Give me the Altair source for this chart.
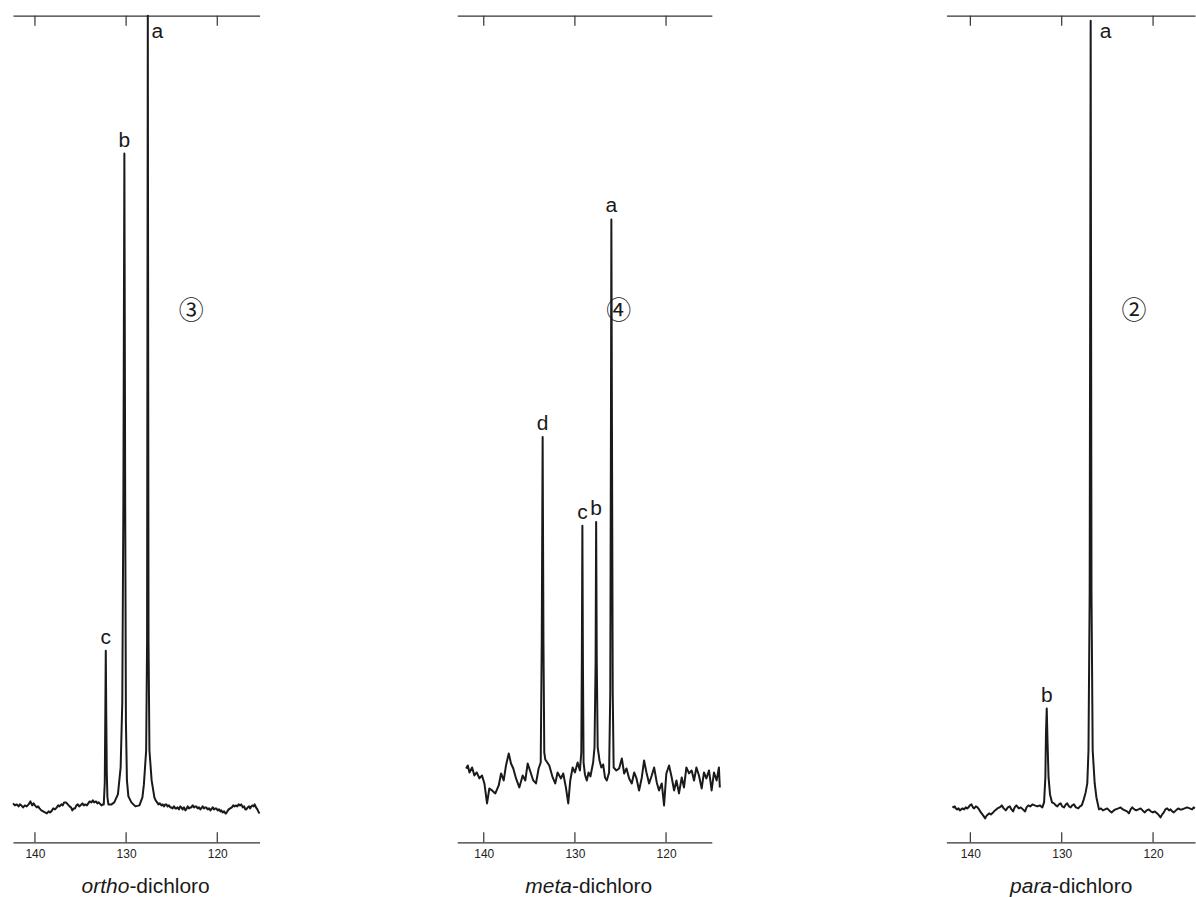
import altair as alt
import pandas as pd

H = 828  # plot height in px (arbitrary intensity units map 1:1)
FONT = "Liberation Sans, Arial, Helvetica, sans-serif"
INK = "#1a1a1a"
AX = "#333333"

tick_vals = [140, 130, 120]

# ---------------- ortho-dichlorobenzene ----------------
ortho_ppm = [142.4, 142.2, 142.0, 141.8, 141.65, 141.5, 141.3, 141.1, 140.9, 140.7,
             140.5, 140.3, 140.15, 140.0, 139.8, 139.65, 139.5, 139.3, 139.1, 138.9,
             138.7, 138.5, 138.35, 138.2, 138.0, 137.8, 137.6, 137.45, 137.3, 137.1,
             136.95, 136.8, 136.6, 136.4, 136.2, 136.05, 135.9, 135.75, 135.6, 135.45,
             135.3, 135.15, 135.0, 134.8, 134.65, 134.5, 134.3, 134.15, 134.0, 133.8,
             133.65, 133.5, 133.3, 133.15, 133.0, 132.9, 132.7, 132.55, 132.45,
             132.34, 132.28, 132.23, 132.18, 132.12, 132.05, 131.94, 131.6, 131.3,
             130.9, 130.6, 130.42, 130.3, 130.19, 130.1, 130.02, 129.91, 129.75, 129.42,
             128.98, 128.54, 128.21, 128.05, 127.8, 127.7, 127.62, 127.54, 127.44, 127.2,
             126.9, 126.76, 126.6, 126.45, 126.3, 126.13, 126.0, 125.85, 125.7, 125.59,
             125.45, 125.3, 125.15, 125.04, 124.9, 124.75, 124.6, 124.49, 124.35, 124.2,
             124.05, 123.94, 123.8, 123.65, 123.5, 123.4, 123.25, 123.1, 122.95, 122.85,
             122.7, 122.55, 122.4, 122.3, 122.15, 122.0, 121.85, 121.75, 121.6, 121.45,
             121.3, 121.21, 121.05, 120.9, 120.75, 120.66, 120.5, 120.35, 120.2, 120.11,
             119.95, 119.8, 119.65, 119.56, 119.4, 119.25, 119.1, 119.02, 118.9, 118.75,
             118.58, 118.4, 118.25, 118.1, 117.92, 117.8, 117.65, 117.5, 117.37, 117.2,
             117.05, 116.92, 116.82, 116.65, 116.5, 116.4, 116.28, 116.15, 116.0, 115.9,
             115.75, 115.6, 115.5, 115.37]
ortho_int = [39, 37, 38, 36, 38, 37, 35, 37, 36, 38,
             41, 37, 39, 37, 35, 36, 34, 32, 31, 30,
             29, 31, 30, 31, 34, 33, 35, 37, 36, 38,
             37, 40, 40, 38, 36, 35, 32, 34, 34, 37,
             38, 36, 37, 39, 37, 38, 37, 39, 41, 40,
             42, 40, 41, 39, 40, 39, 37, 38, 38,
             60, 130, 192, 130, 70, 45, 38, 38, 40,
             48, 75, 140, 340, 690, 340, 120, 62, 46, 40,
             36, 37, 45, 58, 92, 200, 828, 200, 92, 62,
             45, 42, 40, 38, 39, 37, 38, 36, 38, 38,
             36, 37, 35, 35, 34, 36, 34, 34, 35, 33,
             36, 35, 33, 35, 32, 33, 36, 34, 35, 35,
             37, 35, 36, 36, 34, 35, 33, 34, 36, 34,
             35, 35, 33, 34, 32, 33, 35, 33, 34, 34,
             32, 33, 31, 32, 30, 31, 29, 29, 31, 33,
             34, 35, 37, 36, 37, 36, 38, 37, 38, 35,
             36, 33, 33, 35, 36, 34, 36, 37, 36, 38,
             35, 33, 31, 29]

# ---------------- meta-dichlorobenzene ----------------
meta_ppm = [141.94, 141.75, 141.57, 141.28, 141.03, 140.77, 140.48, 140.19, 139.93, 139.64,
            139.39, 139.09, 138.73, 138.36, 138.1, 137.81, 137.56, 137.26, 137.01, 136.76,
            136.46, 136.1, 135.73, 135.44, 135.18, 134.93, 134.57, 134.27, 133.98,
            133.75, 133.64, 133.54, 133.45, 133.36, 133.25,
            132.81, 132.44, 132.16, 131.9, 131.53, 131.28, 130.99, 130.73, 130.51, 130.25,
            130.0, 129.7, 129.45,
            129.3, 129.24, 129.18, 129.12, 129.05,
            128.9, 128.7, 128.5, 128.3, 128.0,
            127.85, 127.73, 127.67, 127.6, 127.5,
            127.3, 127.1, 126.9, 126.7, 126.5,
            126.25, 126.12, 126.05, 126.0, 125.93, 125.85, 125.75,
            125.45, 125.15, 124.85, 124.6, 124.34, 124.05, 123.76, 123.5, 123.24, 122.96,
            122.66, 122.41, 122.15, 121.86, 121.57, 121.31, 121.02, 120.77, 120.47, 120.22,
            119.97, 119.67, 119.38, 119.12, 118.86, 118.58, 118.28, 118.03, 117.77, 117.48,
            117.19, 116.93, 116.67, 116.39, 116.09, 115.84, 115.58, 115.29, 115.0, 114.74,
            114.45, 114.2, 114.1]
meta_int = [74, 77, 70, 75, 67, 70, 64, 67, 59, 39,
            54, 52, 49, 57, 69, 62, 77, 89, 79, 74,
            64, 55, 67, 62, 79, 72, 62, 59, 74,
            80, 200, 406, 200, 90, 83,
            77, 65, 59, 70, 64, 69, 55, 39, 62, 75,
            70, 80, 72,
            90, 180, 317, 180, 80,
            68, 62, 70, 66, 80,
            95, 180, 321, 180, 95,
            82, 75, 78, 65, 62,
            70, 150, 400, 624, 400, 150, 75,
            72, 74, 84, 69, 74, 64, 59, 70, 64, 52,
            65, 82, 70, 59, 67, 75, 60, 52, 59, 37,
            69, 77, 65, 52, 62, 49, 65, 55, 75, 69,
            72, 62, 75, 67, 54, 70, 64, 72, 52, 70,
            62, 75, 55]

# ---------------- para-dichlorobenzene ----------------
para_ppm = [141.96, 141.8, 141.7, 141.58, 141.45, 141.3, 141.15, 141.0, 140.85, 140.68,
            140.5, 140.35, 140.21, 140.05, 139.88, 139.72, 139.58, 139.4, 139.22, 139.05,
            138.85, 138.6, 138.38, 138.2, 137.95, 137.75, 137.51, 137.3, 137.04, 136.8,
            136.56, 136.35, 136.12, 135.9, 135.68, 135.5, 135.32, 135.15, 134.96, 134.7,
            134.48, 134.25, 134.01, 133.85, 133.65, 133.45, 133.21, 132.95, 132.67, 132.4,
            132.12,
            131.93, 131.79, 131.72, 131.64, 131.55, 131.44, 131.28, 131.06,
            130.84, 130.65, 130.48, 130.3, 130.11, 129.95, 129.75, 129.55, 129.39, 129.2,
            129.02, 128.85, 128.66, 128.45, 128.19, 128.0, 127.81,
            127.62, 127.38, 127.2, 127.07, 126.94, 126.83, 126.74, 126.61, 126.39, 126.2,
            125.92, 125.7, 125.49, 125.25, 125.02, 124.8, 124.54, 124.3, 124.1, 123.8,
            123.55, 123.3, 123.08, 122.85, 122.64, 122.45, 122.28, 122.05, 121.85, 121.6,
            121.37, 121.15, 120.9, 120.7, 120.46, 120.25, 120.02, 119.8, 119.55, 119.35,
            119.18, 119.0, 118.82, 118.65, 118.46, 118.25, 118.09, 117.9, 117.73, 117.5,
            117.26, 117.05, 116.82, 116.55, 116.27, 116.0, 115.73, 115.55, 115.43]
para_int = [36, 35, 36, 34, 33, 34, 32, 33, 34, 33,
            35, 34, 35, 37, 38, 35, 34, 36, 35, 33,
            30, 27, 24, 27, 29, 28, 30, 32, 34, 35,
            37, 34, 32, 35, 36, 33, 31, 35, 37, 34,
            35, 33, 31, 35, 37, 36, 38, 37, 36, 37,
            35,
            40, 65, 110, 134, 100, 65, 48, 40,
            39, 37, 36, 38, 39, 36, 35, 38, 39, 36,
            35, 37, 38, 35, 34, 36, 37,
            42, 50, 59, 92, 250, 823, 250, 92, 59, 45,
            33, 34, 32, 33, 34, 32, 30, 32, 33, 34,
            35, 33, 32, 31, 29, 33, 35, 33, 32, 33,
            34, 32, 30, 32, 33, 31, 30, 31, 29, 27,
            25, 28, 30, 33, 34, 32, 33, 31, 30, 32,
            34, 33, 33, 34, 35, 34, 33, 35, 34]

# peak labels: (label, ppm, peak height)
ortho_top = [("b", 130.19, 690), ("c", 132.23, 192)]
ortho_side = [("a", 127.54, 828)]
meta_top = [("a", 126.0, 624), ("b", 127.67, 321), ("c", 129.18, 317), ("d", 133.54, 406)]
meta_side = []
para_top = [("b", 131.64, 134)]
para_side = [("a", 126.83, 828)]


def panel(ppm, inten, dom, width, top_lbls, side_lbls, side_dx, number, num_pos,
          italic_word, split_ppm):
    xs = alt.Scale(domain=dom, nice=False, zero=False)
    ys = alt.Scale(domain=[0, H], nice=False, zero=False)
    df = pd.DataFrame({"ppm": ppm, "i": inten, "k": list(range(len(ppm)))})
    line = alt.Chart(df).mark_line(color=INK, strokeWidth=2, strokeJoin="round").encode(
        x=alt.X("ppm:Q", scale=xs, title=None,
                axis=alt.Axis(orient="bottom", values=tick_vals, ticks=False, tickSize=0,
                              grid=False, domain=True, domainColor=AX, domainWidth=1.2,
                              labelFont=FONT, labelFontSize=12, labelColor="#222",
                              labelPadding=6, format="d")),
        y=alt.Y("i:Q", scale=ys, axis=None),
        order="k:Q",
    )
    tdf = pd.DataFrame({"ppm": tick_vals})
    top_ticks = alt.Chart(tdf).mark_rule(color=AX, strokeWidth=1.2).encode(
        x=alt.X("ppm:Q", scale=xs, title=None,
                axis=alt.Axis(orient="top", labels=False, ticks=False, grid=False,
                              domain=True, domainColor=AX, domainWidth=1.2)),
        y=alt.value(0), y2=alt.value(10))
    bot_ticks = alt.Chart(tdf).mark_rule(color=AX, strokeWidth=1.2).encode(
        x=alt.X("ppm:Q", scale=xs, axis=None),
        y=alt.value(H - 10), y2=alt.value(H))
    layers = [line, top_ticks, bot_ticks]
    if top_lbls:
        ldf = pd.DataFrame(top_lbls, columns=["lab", "ppm", "i"])
        layers.append(alt.Chart(ldf).mark_text(font=FONT, fontSize=21, color=INK,
                                               baseline="alphabetic", align="center", dy=-7).encode(
            x=alt.X("ppm:Q", scale=xs, axis=None), y=alt.Y("i:Q", scale=ys, axis=None),
            text="lab:N"))
    if side_lbls:
        sdf = pd.DataFrame(side_lbls, columns=["lab", "ppm", "i"])
        layers.append(alt.Chart(sdf).mark_text(font=FONT, fontSize=21, color=INK,
                                               baseline="alphabetic", align="left",
                                               dx=side_dx, dy=22).encode(
            x=alt.X("ppm:Q", scale=xs, axis=None), y=alt.Y("i:Q", scale=ys, axis=None),
            text="lab:N"))
    ndf = pd.DataFrame({"lab": [number], "ppm": [num_pos[0]], "i": [num_pos[1]]})
    layers.append(alt.Chart(ndf).mark_text(font="Noto Sans CJK JP", fontSize=25, color=INK,
                                           baseline="middle", align="center").encode(
        x=alt.X("ppm:Q", scale=xs, axis=None), y=alt.Y("i:Q", scale=ys, axis=None),
        text="lab:N"))
    tdf2 = pd.DataFrame({"ppm": [split_ppm], "a": [italic_word], "b": ["-dichloro"]})
    layers.append(alt.Chart(tdf2).mark_text(font=FONT, fontSize=21, fontStyle="italic",
                                            color=INK, align="right", baseline="alphabetic").encode(
        x=alt.X("ppm:Q", scale=xs, axis=None), y=alt.value(879), text="a:N"))
    layers.append(alt.Chart(tdf2).mark_text(font=FONT, fontSize=21, color=INK,
                                            align="left", baseline="alphabetic").encode(
        x=alt.X("ppm:Q", scale=xs, axis=None), y=alt.value(879), text="b:N"))
    return alt.layer(*layers).resolve_axis(x="independent").properties(width=width, height=H)


def spacer(w):
    return alt.Chart(pd.DataFrame({"v": [0]})).mark_rule(opacity=0).encode(
        x=alt.value(0), y=alt.value(0), y2=alt.value(1)).properties(width=w, height=H)


p1 = panel(ortho_ppm, ortho_int, [142.41, 115.36], 247, ortho_top, ortho_side, 3,
           "③", (122.85, 532), "ortho", 129.64)
p2 = panel(meta_ppm, meta_int, [142.91, 114.98], 255, meta_top, meta_side, 0,
           "④", (125.18, 532), "meta", 130.33)
p3 = panel(para_ppm, para_int, [142.62, 115.41], 249, para_top, para_side, 9,
           "②", (122.1, 532), "para", 131.06)

chart = alt.hconcat(p1, spacer(198), p2, spacer(235), p3, spacing=0, bounds="flush").properties(
    padding={"left": 12, "top": 14, "right": 0, "bottom": 0},
    background="white",
).configure_view(stroke=None)

chart.save("out.html", embed_options={"renderer": "svg", "actions": False})
